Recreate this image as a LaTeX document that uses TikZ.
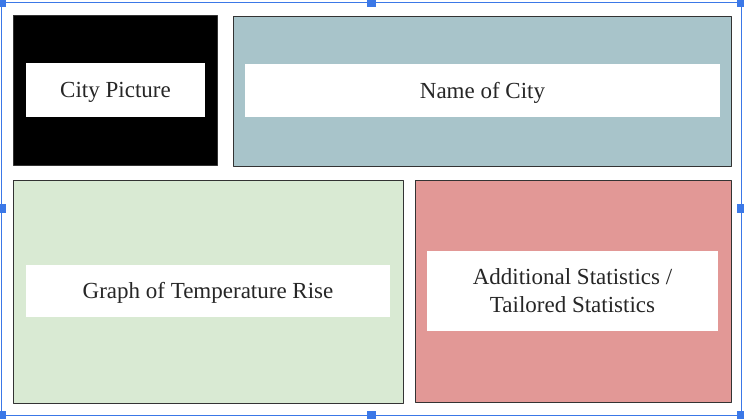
\documentclass[tikz,border=0pt]{standalone}
\usepackage{fontspec}
\setmainfont{Liberation Serif}
\definecolor{panelblue}{HTML}{A8C4CA}
\definecolor{panelgreen}{HTML}{D9EAD3}
\definecolor{panelred}{HTML}{E29896}
\definecolor{selblue}{HTML}{3B78E7}
\begin{document}
\begin{tikzpicture}[x=1pt,y=-1pt,line join=round,
    panel/.style={draw=black!80,line width=1pt},
    captionbar/.style={fill=white,inner sep=0pt,align=center,text=black!85,
      font=\fontsize{23}{28}\selectfont},
    caption/.style={captionbar,text height=20.5pt},
    handle/.style={fill=selblue}]
  % Keep the screenshot frame, selection outline included.
  \useasboundingbox (0,0) rectangle (744,418);

  % Selection outline and its handles.
  \draw[selblue,line width=1pt] (1.5,2) rectangle (741.5,415);
  \foreach \hx/\hy in {1.5/2,371.5/2,741.5/2,1.5/208.5,741.5/208.5,1.5/415,371.5/415,741.5/415}
    \fill[handle] (\hx-4.5,\hy-4.5) rectangle (\hx+4.5,\hy+4.5);

  % Panels of the layout.
  \draw[panel,fill=black] (13,15) rectangle (217,165);
  \draw[panel,fill=panelblue] (233,16) rectangle (731,166);
  \draw[panel,fill=panelgreen] (13,180) rectangle (403,403);
  \draw[panel,fill=panelred] (415,180) rectangle (731,402);

  % White caption bars on top of the panels.
  \node[caption,minimum width=179,minimum height=54] (cityPicture) at (115.5,90) {City Picture};
  \node[caption,minimum width=475,minimum height=53] (cityName) at (482.5,90.5) {Name of City};
  \node[caption,minimum width=364,minimum height=52] (tempGraph) at (208,291) {Graph of Temperature Rise};
  \node[captionbar,minimum width=291,minimum height=80] (extraStats) at (572.5,291)
    {Additional Statistics /\\Tailored Statistics};
\end{tikzpicture}
\end{document}
